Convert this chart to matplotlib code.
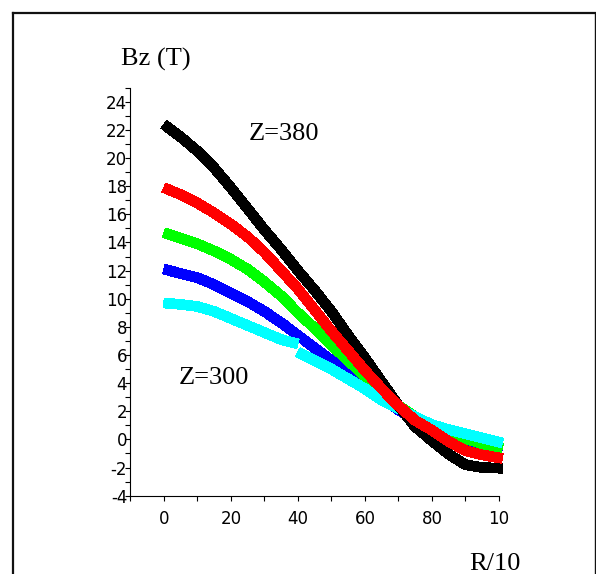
import matplotlib.pyplot as plt
from matplotlib.lines import Line2D

# radial position (R/10) and axial field Bz (T) for five Z planes
r = [0, 5, 10, 15, 20, 25, 30, 35, 40, 45, 50, 55, 60, 65, 70, 75, 80, 85, 90, 95, 101]
bz_380 = [22.4, 21.5, 20.5, 19.3, 17.9, 16.4, 14.9, 13.5, 12.0, 10.6, 9.1,
          7.4, 5.8, 4.1, 2.4, 0.9, -0.1, -1.05, -1.8, -2.0, -2.05]
bz_360 = [17.9, 17.4, 16.8, 16.1, 15.3, 14.4, 13.3, 12.0, 10.7, 9.2, 7.7,
          6.3, 4.9, 3.6, 2.4, 1.35, 0.65, -0.15, -0.8, -1.1, -1.35]
bz_340 = [14.7, 14.3, 13.9, 13.4, 12.8, 12.1, 11.2, 10.2, 9.0, 7.9, 6.7,
          5.6, 4.5, 3.4, 2.4, 1.6, 1.0, 0.45, 0.05, -0.3, -0.65]
bz_320 = [12.1, 11.8, 11.5, 11.0, 10.4, 9.8, 9.1, 8.3, 7.4, 6.5, 5.6,
          4.8, 4.1, 3.0, 2.1, 1.4, 0.8, 0.3, -0.1, -0.4, -0.6]
# the Z=300 run comes in two pieces with a small jump at R/10 = 40
r_300a = [0, 5, 10, 15, 20, 25, 30, 35, 40]
bz_300a = [9.7, 9.6, 9.45, 9.1, 8.6, 8.1, 7.6, 7.1, 6.8]
r_300b = [40, 45, 50, 55, 60, 65, 70, 75, 80, 85, 90, 95, 101]
bz_300b = [6.2, 5.6, 5.0, 4.3, 3.6, 2.8, 2.2, 1.6, 1.05, 0.7, 0.4, 0.1, -0.25]

x_major = [0, 20, 40, 60, 80, 100]
x_labels = ['0', '20', '40', '60', '80', '10']
x_minor = [-10, 10, 30, 50, 70, 90]
y_major = list(range(-4, 25, 2))
y_minor = list(range(-3, 26, 2))

W, H = 596, 574
fig = plt.figure(figsize=(W / 100, H / 100), dpi=100)
ax = fig.add_axes([130.3 / W, 1 - 495.7 / H, 368.7 / W, 408.0 / H])

curves = [
    (r, bz_320, '#0000ff'),
    (r, bz_340, '#00ff00'),
    (r_300a, bz_300a, '#00ffff'),
    (r_300b, bz_300b, '#00ffff'),
    (r, bz_380, '#000000'),
    (r, bz_360, '#ff0000'),
]
for rr, bz, col in curves:
    ax.plot(rr, bz, color=col, lw=7, solid_capstyle='butt',
            antialiased=False, clip_on=False)

ax.set_xlim(-10, 100)
ax.set_ylim(-4, 25)
ax.spines['top'].set_visible(False)
ax.spines['right'].set_visible(False)
for s in ('left', 'bottom'):
    ax.spines[s].set_linewidth(0.8)

ax.set_xticks(x_major)
ax.set_xticklabels(x_labels)
ax.set_xticks(x_minor, minor=True)
ax.set_yticks(y_major)
ax.set_yticklabels([str(v) for v in y_major])
ax.set_yticks(y_minor, minor=True)
ax.tick_params(which='both', direction='out', length=3.6, width=0.8,
               labelsize=12)
ax.tick_params(axis='y', pad=-1.4)
ax.tick_params(axis='x', pad=7.0)
for lab in ax.get_xticklabels() + ax.get_yticklabels():
    lab.set_family('DejaVu Sans')

serif = dict(family='Liberation Serif', fontsize=19, clip_on=False,
             va='baseline', ha='left')
ax.text(-12.9, 26.6, 'Bz (T)', **serif)
ax.text(25.2, 21.25, 'Z=380', **serif)
ax.text(4.4, 3.96, 'Z=300', **serif)
ax.text(91.2, -9.3, 'R/10', **serif)

# frame around the figure (bottom edge falls outside the canvas)
def px(x, y):
    return x / W, 1 - y / H

for (x0, y0), (x1, y1), lw in [((12.5, 574), (12.5, 12.5), 1.6),
                                ((12.5, 12.5), (595, 12.5), 1.6),
                                ((595, 12.5), (595, 574), 1.0)]:
    a, b = px(x0, y0), px(x1, y1)
    fig.add_artist(Line2D([a[0], b[0]], [a[1], b[1]], transform=fig.transFigure,
                          color='#111111', lw=lw))

fig.savefig('out.png', dpi=100)
